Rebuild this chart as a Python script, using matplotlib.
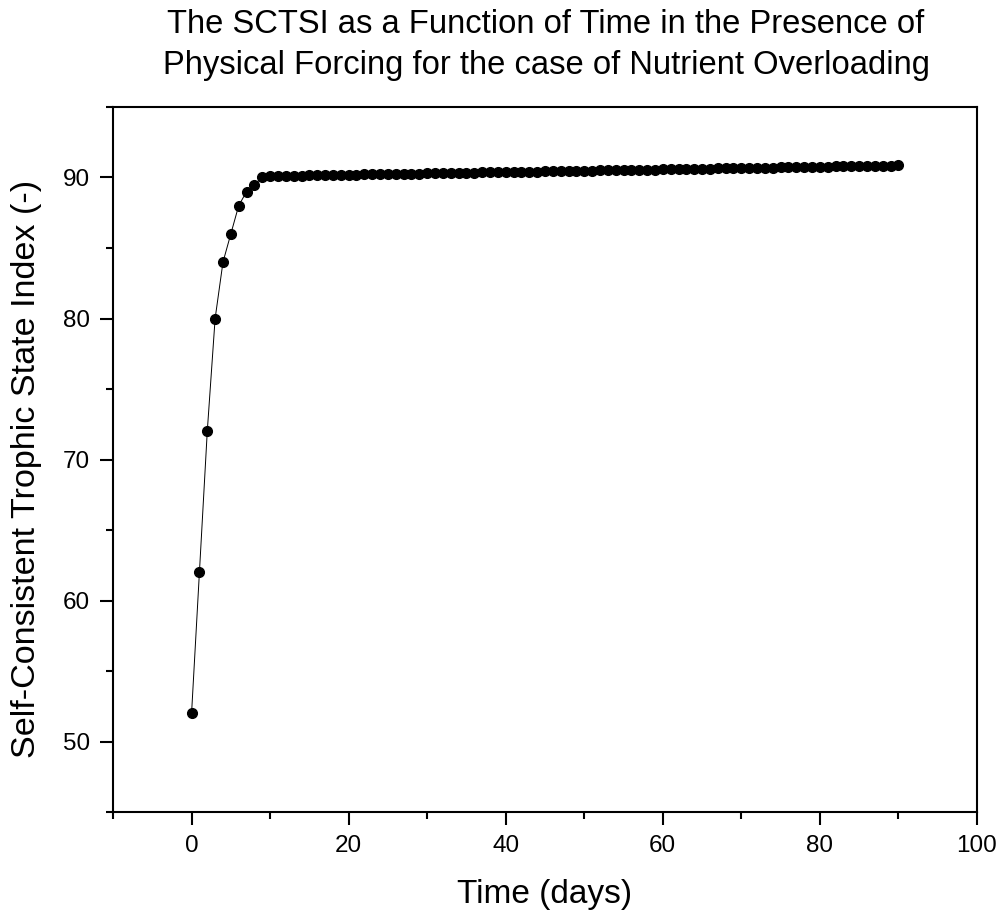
import matplotlib
matplotlib.use("Agg")
import matplotlib.pyplot as plt
from matplotlib.ticker import MultipleLocator

plt.rcParams['font.family'] = ['Liberation Sans', 'DejaVu Sans']

days = list(range(0, 91))
sctsi = [
    52.0, 62.0, 72.0, 80.0, 84.0, 86.0, 88.0, 89.0, 89.5, 90.0,
    90.10, 90.11, 90.12, 90.13, 90.14, 90.15, 90.16, 90.17, 90.18, 90.19,
    90.20, 90.21, 90.22, 90.23, 90.24, 90.25, 90.26, 90.27, 90.27, 90.28,
    90.29, 90.30, 90.31, 90.32, 90.33, 90.34, 90.35, 90.36, 90.37, 90.38,
    90.39, 90.40, 90.40, 90.41, 90.42, 90.43, 90.44, 90.45, 90.46, 90.47,
    90.48, 90.49, 90.50, 90.51, 90.52, 90.53, 90.54, 90.54, 90.55, 90.56,
    90.57, 90.58, 90.59, 90.60, 90.61, 90.62, 90.63, 90.64, 90.65, 90.66,
    90.67, 90.67, 90.68, 90.69, 90.70, 90.71, 90.72, 90.73, 90.74, 90.75,
    90.76, 90.77, 90.78, 90.79, 90.80, 90.81, 90.82, 90.83, 90.84, 90.85,
    90.86,
]

title = "The SCTSI as a Function of Time in the Presence of\nPhysical Forcing for the case of Nutrient Overloading"
xlabel = "Time (days)"
ylabel = "Self-Consistent Trophic State Index (-)"

fig = plt.figure(figsize=(10.02, 9.16), dpi=100)
ax = fig.add_axes([0.1128, 0.1135, 0.975 - 0.1128, 0.8832 - 0.1135])

ax.plot(days, sctsi, color='black', linewidth=0.7, marker='o',
        markersize=7.0, markerfacecolor='black', markeredgecolor='black')

ax.set_xlim(-10, 100)
ax.set_ylim(45, 95)
ax.xaxis.set_major_locator(MultipleLocator(20))
ax.xaxis.set_minor_locator(MultipleLocator(10))
ax.yaxis.set_major_locator(MultipleLocator(10))
ax.yaxis.set_minor_locator(MultipleLocator(5))

for s in ax.spines.values():
    s.set_linewidth(1.5)

ax.tick_params(which='both', direction='out', top=False, right=False, width=1.5)
ax.tick_params(which='major', length=9.5, labelsize=17.5, pad=7)
ax.tick_params(which='minor', length=5)

ax.set_xlabel(xlabel, fontsize=24, labelpad=16)
ax.set_ylabel(ylabel, fontsize=24.6)
ax.yaxis.set_label_coords(-0.082, 0.486)
fig.suptitle(title, fontsize=23.6, y=0.99, va='top', x=0.545, linespacing=1.42)

fig.savefig("out.png", dpi=100)
